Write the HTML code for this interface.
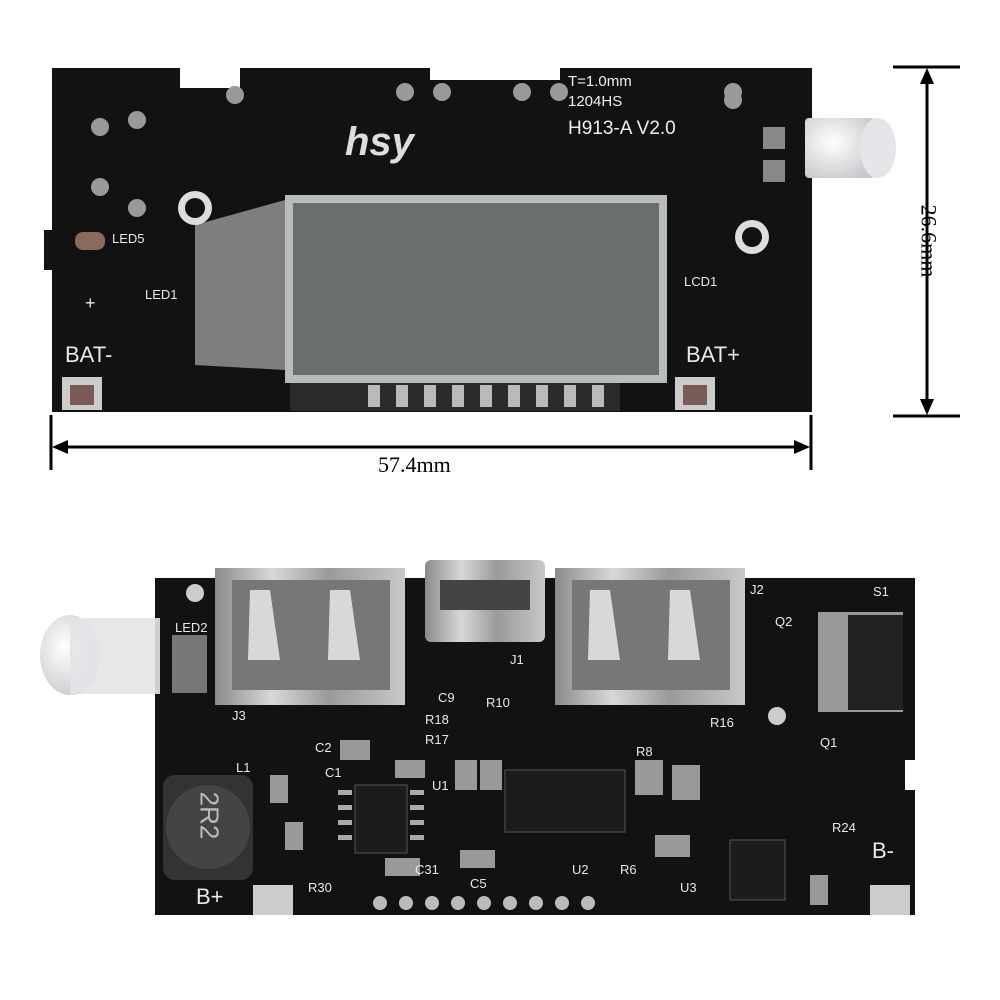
<!DOCTYPE html>
<html><head><meta charset="utf-8"><style>
html,body{margin:0;padding:0;background:#fff;}
body{width:1000px;height:1000px;position:relative;overflow:hidden;font-family:"Liberation Sans",sans-serif;}
.a{position:absolute;}
.silk{position:absolute;color:#e8e8e8;font-size:13px;z-index:2;}
</style></head><body>
<svg class="a" style="left:0;top:0" width="1000" height="1000" viewBox="0 0 1000 1000">
<defs>
<linearGradient id="met" x1="0" y1="0" x2="1" y2="0">
<stop offset="0" stop-color="#8a8a8a"/><stop offset="0.3" stop-color="#d8d8d8"/><stop offset="0.6" stop-color="#9a9a9a"/><stop offset="1" stop-color="#c8c8c8"/></linearGradient>
<radialGradient id="led" cx="0.4" cy="0.4" r="0.7"><stop offset="0" stop-color="#ffffff"/><stop offset="1" stop-color="#c8c8cc"/></radialGradient>
</defs>
<!-- TOP BOARD -->
<path d="M52 68 H180 V88 H240 V68 H430 V80 H560 V68 H812 V412 H52 V270 H44 V230 H52 Z" fill="#121212"/>
<rect x="805" y="118" width="70" height="60" rx="4" fill="url(#led)"/>
<ellipse cx="878" cy="148" rx="18" ry="30" fill="#e6e6ea"/>
<path d="M195 225 L285 200 L285 370 L195 365 Z" fill="#9a9a9a" opacity="0.8"/>
<rect x="285" y="195" width="382" height="188" fill="#b8bcbc"/>
<rect x="293" y="203" width="366" height="172" fill="#6b6f6c"/>
<rect x="290" y="383" width="330" height="28" fill="#2a2a2a"/>
<g fill="#bbb">
<rect x="368" y="385" width="12" height="22"/><rect x="396" y="385" width="12" height="22"/><rect x="424" y="385" width="12" height="22"/><rect x="452" y="385" width="12" height="22"/><rect x="480" y="385" width="12" height="22"/><rect x="508" y="385" width="12" height="22"/><rect x="536" y="385" width="12" height="22"/><rect x="564" y="385" width="12" height="22"/><rect x="592" y="385" width="12" height="22"/></g>
<circle cx="195" cy="208" r="17" fill="#ddd"/><circle cx="195" cy="208" r="10" fill="#111"/>
<circle cx="752" cy="237" r="17" fill="#ddd"/><circle cx="752" cy="237" r="10" fill="#111"/>
<g fill="#999"><circle cx="100" cy="127" r="9"/><circle cx="137" cy="120" r="9"/><circle cx="100" cy="187" r="9"/><circle cx="137" cy="208" r="9"/><circle cx="235" cy="95" r="9"/><circle cx="405" cy="92" r="9"/><circle cx="442" cy="92" r="9"/><circle cx="522" cy="92" r="9"/><circle cx="559" cy="92" r="9"/><circle cx="733" cy="92" r="9"/><circle cx="733" cy="100" r="9"/></g>
<rect x="763" y="127" width="22" height="22" fill="#888"/><rect x="763" y="160" width="22" height="22" fill="#888"/>
<rect x="75" y="232" width="30" height="18" rx="8" fill="#8a6a5a"/>
<rect x="62" y="377" width="40" height="33" fill="#ccc"/><rect x="70" y="385" width="24" height="20" fill="#7a5a55"/>
<rect x="675" y="377" width="40" height="33" fill="#ccc"/><rect x="683" y="385" width="24" height="20" fill="#7a5a55"/>
<g stroke="#000" stroke-width="3" fill="#000">
<line x1="51" y1="415" x2="51" y2="470"/><line x1="811" y1="415" x2="811" y2="470"/>
<line x1="60" y1="447" x2="802" y2="447"/>
<line x1="893" y1="67" x2="960" y2="67"/><line x1="893" y1="416" x2="960" y2="416"/>
<line x1="927" y1="76" x2="927" y2="407"/>
</g>
<path d="M52 447 L68 440 L68 454 Z M810 447 L794 440 L794 454 Z M927 68 L920 84 L934 84 Z M927 415 L920 399 L934 399 Z" fill="#000"/>
<!-- BOTTOM BOARD -->
<path d="M155 578 H915 V760 H905 V790 H915 V915 H155 Z" fill="#121212"/>
<ellipse cx="70" cy="655" rx="30" ry="40" fill="url(#led)"/>
<rect x="70" y="618" width="90" height="76" fill="#e4e4e8" opacity="0.9"/>
<rect x="172" y="635" width="35" height="58" fill="#777"/>
<rect x="215" y="568" width="190" height="137" fill="url(#met)"/>
<rect x="232" y="580" width="158" height="110" fill="#777"/>
<path d="M250 590 L270 590 L280 660 L248 660 Z M330 590 L350 590 L360 660 L328 660 Z" fill="#d8d8d8"/>
<rect x="425" y="560" width="120" height="82" rx="6" fill="url(#met)"/>
<rect x="440" y="580" width="90" height="30" fill="#444"/>
<rect x="555" y="568" width="190" height="137" fill="url(#met)"/>
<rect x="572" y="580" width="158" height="110" fill="#777"/>
<path d="M590 590 L610 590 L620 660 L588 660 Z M670 590 L690 590 L700 660 L668 660 Z" fill="#d8d8d8"/>
<rect x="818" y="612" width="85" height="100" fill="#999"/>
<rect x="848" y="615" width="55" height="95" fill="#222"/>
<rect x="163" y="775" width="90" height="105" rx="12" fill="#333"/>
<circle cx="208" cy="827" r="42" fill="#444"/>
<rect x="355" y="785" width="52" height="68" fill="#1c1c1c" stroke="#555"/>
<rect x="505" y="770" width="120" height="62" fill="#1c1c1c" stroke="#555"/>
<rect x="730" y="840" width="55" height="60" fill="#1c1c1c" stroke="#555"/>
<g fill="#aaa">
<rect x="338" y="790" width="14" height="5"/><rect x="338" y="805" width="14" height="5"/><rect x="338" y="820" width="14" height="5"/><rect x="338" y="835" width="14" height="5"/>
<rect x="410" y="790" width="14" height="5"/><rect x="410" y="805" width="14" height="5"/><rect x="410" y="820" width="14" height="5"/><rect x="410" y="835" width="14" height="5"/>
</g>
<g fill="#bbb"><circle cx="380" cy="903" r="7"/><circle cx="406" cy="903" r="7"/><circle cx="432" cy="903" r="7"/><circle cx="458" cy="903" r="7"/><circle cx="484" cy="903" r="7"/><circle cx="510" cy="903" r="7"/><circle cx="536" cy="903" r="7"/><circle cx="562" cy="903" r="7"/><circle cx="588" cy="903" r="7"/></g>
<g fill="#999"><rect x="340" y="740" width="30" height="20"/><rect x="395" y="760" width="30" height="18"/><rect x="455" y="760" width="22" height="30"/><rect x="480" y="760" width="22" height="30"/><rect x="635" y="760" width="28" height="35"/><rect x="672" y="765" width="28" height="35"/><rect x="655" y="835" width="35" height="22"/><rect x="460" y="850" width="35" height="18"/><rect x="385" y="858" width="35" height="18"/><rect x="270" y="775" width="18" height="28"/><rect x="285" y="822" width="18" height="28"/><rect x="810" y="875" width="18" height="30"/></g>
<rect x="253" y="885" width="40" height="30" fill="#ccc"/>
<rect x="870" y="885" width="40" height="30" fill="#ccc"/>
<circle cx="777" cy="716" r="9" fill="#ccc"/><circle cx="195" cy="593" r="9" fill="#ccc"/>
</svg>
<div class="a" style="left:568px;top:72px;color:#eee;font-size:15px;line-height:20px">T=1.0mm<br>1204HS</div>
<div class="a" style="left:568px;top:118px;color:#eee;font-size:19px">H913-A V2.0</div>
<div class="a" style="left:345px;top:120px;color:#ddd;font-size:40px;font-style:italic;font-weight:bold">hsy</div>
<div class="silk" style="left:112px;top:231px">LED5</div>
<div class="silk" style="left:145px;top:287px">LED1</div>
<div class="silk" style="left:684px;top:274px">LCD1</div>
<div class="silk" style="left:85px;top:293px;font-size:18px">+</div>
<div class="silk" style="left:65px;top:342px;font-size:22px">BAT-</div>
<div class="silk" style="left:686px;top:342px;font-size:22px">BAT+</div>
<div class="a" style="left:378px;top:452px;font-family:'Liberation Serif',serif;font-size:22px;color:#000">57.4mm</div>
<div class="a" style="left:892px;top:228px;transform:rotate(90deg);font-family:'Liberation Serif',serif;font-size:22px;color:#000;transform-origin:center">26.6mm</div>
<div class="silk" style="left:175px;top:620px">LED2</div>
<div class="silk" style="left:232px;top:708px">J3</div>
<div class="silk" style="left:510px;top:652px">J1</div>
<div class="silk" style="left:750px;top:582px">J2</div>
<div class="silk" style="left:873px;top:584px">S1</div>
<div class="silk" style="left:775px;top:614px">Q2</div>
<div class="silk" style="left:820px;top:735px">Q1</div>
<div class="silk" style="left:236px;top:760px">L1</div>
<div class="silk" style="left:315px;top:740px">C2</div>
<div class="silk" style="left:325px;top:765px">C1</div>
<div class="silk" style="left:425px;top:712px">R18</div>
<div class="silk" style="left:425px;top:732px">R17</div>
<div class="silk" style="left:486px;top:695px">R10</div>
<div class="silk" style="left:636px;top:744px">R8</div>
<div class="silk" style="left:710px;top:715px">R16</div>
<div class="silk" style="left:832px;top:820px">R24</div>
<div class="silk" style="left:308px;top:880px">R30</div>
<div class="silk" style="left:415px;top:862px">C31</div>
<div class="silk" style="left:470px;top:876px">C5</div>
<div class="silk" style="left:572px;top:862px">U2</div>
<div class="silk" style="left:620px;top:862px">R6</div>
<div class="silk" style="left:680px;top:880px">U3</div>
<div class="silk" style="left:438px;top:690px">C9</div>
<div class="silk" style="left:432px;top:778px">U1</div>
<div class="silk" style="left:196px;top:884px;font-size:22px">B+</div>
<div class="silk" style="left:872px;top:838px;font-size:22px">B-</div>
<div class="a" style="left:185px;top:800px;color:#bbb;font-size:26px;transform:rotate(90deg)">2R2</div>
</body></html>
